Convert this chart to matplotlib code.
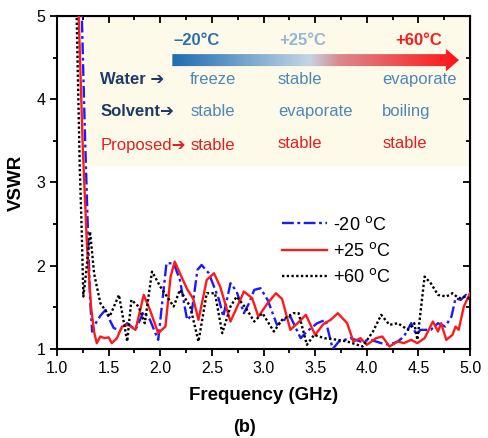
import numpy as np
import matplotlib.pyplot as plt
from matplotlib.colors import LinearSegmentedColormap
from matplotlib.patches import Polygon, Rectangle

plt.rcParams['font.family'] = ['Liberation Sans', 'DejaVu Sans']

# VSWR curves
f_m20 = [1.21, 1.24, 1.27, 1.30, 1.32, 1.34, 1.37, 1.42, 1.47, 1.51, 1.55, 1.61, 1.68, 1.76,
         1.84, 1.90, 1.98, 2.06, 2.13, 2.19, 2.26, 2.30, 2.36, 2.40, 2.47, 2.57, 2.61, 2.68,
         2.74, 2.81, 2.86, 2.91, 2.97, 3.04, 3.13, 3.20, 3.26, 3.36, 3.42, 3.52, 3.60, 3.67,
         3.73, 3.84, 3.94, 4.04, 4.14, 4.22, 4.30, 4.36, 4.43, 4.48, 4.52, 4.62, 4.69, 4.76,
         4.82, 4.86, 4.91, 4.96, 5.0]
vswr_m20 = [6.5, 5.0, 3.6, 2.39, 1.6, 1.21, 1.3, 1.4, 1.47, 1.35, 1.25, 1.23, 1.31, 1.23,
            1.45, 1.35, 1.11, 2.03, 2.03, 1.83, 1.35, 1.4, 1.95, 2.01, 1.91, 1.59, 1.39, 1.79,
            1.69, 1.43, 1.55, 1.71, 1.73, 1.59, 1.29, 1.35, 1.39, 1.13, 1.21, 1.31, 1.35, 1.0,
            1.09, 1.13, 1.09, 1.11, 1.07, 1.05, 1.09, 1.15, 1.31, 1.17, 1.23, 1.23, 1.31, 1.27,
            1.39, 1.61, 1.59, 1.65, 1.59]

f_25 = [1.18, 1.20, 1.25, 1.29, 1.33, 1.36, 1.385, 1.42, 1.46, 1.50, 1.53, 1.58, 1.63, 1.69,
        1.76, 1.84, 1.90, 1.98, 2.05, 2.10, 2.14, 2.19, 2.26, 2.32, 2.37, 2.45, 2.52, 2.58,
        2.68, 2.76, 2.81, 2.89, 2.95, 3.04, 3.12, 3.18, 3.26, 3.33, 3.41, 3.50, 3.58, 3.65,
        3.72, 3.81, 3.87, 3.94, 4.00, 4.09, 4.15, 4.22, 4.30, 4.36, 4.43, 4.49, 4.56, 4.64,
        4.69, 4.72, 4.77, 4.83, 4.86, 4.89, 4.94, 5.0]
vswr_25 = [6.5, 5.4, 3.4, 2.25, 1.5, 1.2, 1.07, 1.15, 1.13, 1.14, 1.07, 1.13, 1.27, 1.29,
           1.23, 1.65, 1.47, 1.19, 1.27, 1.87, 2.05, 1.91, 1.72, 1.6, 1.35, 1.83, 1.91, 1.75,
           1.33, 1.55, 1.69, 1.61, 1.39, 1.55, 1.67, 1.6, 1.23, 1.31, 1.41, 1.17, 1.3, 1.35,
           1.43, 1.31, 1.09, 1.13, 1.05, 1.13, 1.15, 1.03, 1.09, 1.07, 1.11, 1.07, 1.13, 1.33,
           1.21, 1.31, 1.11, 1.17, 1.27, 1.23, 1.51, 1.67]

f_60 = [1.17, 1.19, 1.22, 1.24, 1.255, 1.28, 1.32, 1.36, 1.42, 1.51, 1.60, 1.68, 1.72, 1.79,
        1.85, 1.92, 2.0, 2.13, 2.19, 2.29, 2.37, 2.45, 2.53, 2.60, 2.68, 2.74, 2.83, 2.91,
        2.99, 3.10, 3.18, 3.29, 3.34, 3.42, 3.49, 3.59, 3.72, 3.81, 3.96, 4.06, 4.14, 4.22,
        4.30, 4.40, 4.46, 4.49, 4.56, 4.62, 4.69, 4.77, 4.83, 4.89, 4.96, 5.0]
vswr_60 = [6.5, 5.0, 3.2, 2.39, 1.63, 1.9, 2.41, 1.9, 1.55, 1.39, 1.65, 1.09, 1.59, 1.51,
           1.31, 1.93, 1.75, 1.51, 1.71, 1.51, 1.09, 1.67, 1.67, 1.19, 1.51, 1.63, 1.49, 1.33,
           1.43, 1.21, 1.35, 1.43, 1.43, 1.05, 1.17, 1.13, 1.11, 1.09, 1.03, 1.21, 1.41, 1.29,
           1.31, 1.23, 1.31, 1.11, 1.87, 1.79, 1.65, 1.63, 1.67, 1.61, 1.63, 1.60]

temps = ['\u201320\u00b0C', '+25\u00b0C', '+60\u00b0C']
rows = ['Water', 'Solvent', 'Proposed']
states = [['freeze', 'stable', 'evaporate'],
          ['stable', 'evaporate', 'boiling'],
          ['stable', 'stable', 'stable']]

fig = plt.figure(figsize=(4.89, 4.38), dpi=100)
ax = fig.add_axes([0.1166, 0.2032, 0.8446, 0.7603])

# beige info box
ax.add_patch(Rectangle((1.28, 3.2), 3.72, 1.8, facecolor='#fdfaea', edgecolor='none', zorder=0))

ax.plot(f_m20, vswr_m20, color='#1a1aff', lw=1.7, ls=(0, (5, 1.5, 1.2, 1.5)), label='-20 $^{\\rm o}$C', zorder=3)
ax.plot(f_25, vswr_25, color='#ff1a1a', lw=1.7, label='+25 $^{\\rm o}$C', zorder=3)
ax.plot(f_60, vswr_60, color='black', lw=1.7, ls=(0, (1, 1)), label='+60 $^{\\rm o}$C', zorder=3)

# gradient temperature arrow
cmap = LinearSegmentedColormap.from_list('temp', [(0, '#1f6db0'), (0.48, '#c3d5e4'),
                                                  (0.58, '#d98a8f'), (1, '#ff1414')])
x0, x1, xh, yc = 2.117, 4.893, 4.767, 4.47
sh, hh = 0.072, 0.135
grad = np.linspace(0, 1, 256).reshape(1, -1)
im = ax.imshow(grad, extent=[x0, x1, yc - hh, yc + hh], aspect='auto', cmap=cmap, zorder=2)
arrow = Polygon([(x0, yc - sh), (xh, yc - sh), (xh, yc - hh), (x1, yc), (xh, yc + hh),
                 (xh, yc + sh), (x0, yc + sh)], closed=True, facecolor='none', edgecolor='none')
ax.add_patch(arrow)
im.set_clip_path(arrow)

tcolors = ['#2f6fae', '#94b6d4', '#ff1a1a']
col_x = [2.29, 3.14, 4.15]
temp_x = [2.35, 3.38, 4.50]
for t, xx, c in zip(temps, temp_x, tcolors):
    ax.text(xx, 4.71, t, color=c, fontsize=12, fontweight='bold', ha='center', va='center')

row_y = [4.24, 3.85, 3.45]
row_labels = ['Water \u2794', 'Solvent\u2794', 'Proposed\u2794']
row_colors = ['#1f3a68', '#1f3a68', '#e02020']
word_colors = ['#4f87b9', '#4f87b9', '#e02020']
for i in range(3):
    ax.text(1.42, row_y[i], row_labels[i], color=row_colors[i], fontsize=12,
            fontweight='bold' if i < 2 else 'normal', ha='left', va='center')
    for j in range(3):
        ax.text(col_x[j], row_y[i] + (0.02 if (i == 2 and j > 0) else 0), states[i][j],
                color=word_colors[i], fontsize=12, ha='left', va='center')

ax.set_xlim(1.0, 5.0)
ax.set_ylim(1, 5)
ax.set_xticks(np.arange(1.0, 5.01, 0.5))
ax.set_xticks(np.arange(1.0, 5.01, 0.25), minor=True)
ax.set_yticks([1, 2, 3, 4, 5])
ax.set_yticks(np.arange(1, 5.01, 0.5), minor=True)
ax.set_xticklabels(['%.1f' % v for v in np.arange(1.0, 5.01, 0.5)])
ax.tick_params(which='both', direction='out', labelsize=11.5, width=1.3, top=False, right=False)
ax.tick_params(which='major', length=5)
ax.tick_params(which='minor', length=3)
for s in ax.spines.values():
    s.set_linewidth(1.5)

# inward ticks on top and right
sec_x = ax.secondary_xaxis('top')
sec_x.set_xticks(np.arange(1.0, 5.01, 0.5))
sec_x.set_xticks(np.arange(1.0, 5.01, 0.25), minor=True)
sec_x.tick_params(which='both', direction='in', labeltop=False, width=1.3)
sec_x.tick_params(which='major', length=5)
sec_x.tick_params(which='minor', length=3)
sec_y = ax.secondary_yaxis('right')
sec_y.set_yticks([1, 2, 3, 4, 5])
sec_y.set_yticks(np.arange(1, 5.01, 0.5), minor=True)
sec_y.tick_params(which='both', direction='in', labelright=False, width=1.3)
sec_y.tick_params(which='major', length=5)
sec_y.tick_params(which='minor', length=3)

ax.set_xlabel('Frequency (GHz)', fontsize=13.5, fontweight='bold', labelpad=8)
ax.set_ylabel('VSWR', fontsize=13.5, fontweight='bold', labelpad=8)

ax.legend(loc='upper left', bbox_to_anchor=(0.545, 0.40), frameon=False, fontsize=13,
          handlelength=2.5, handletextpad=0.3, labelspacing=0.45, borderpad=0, borderaxespad=0)

fig.text(0.50, 1 - 427 / 438, '(b)', fontsize=13, fontweight='bold', ha='center', va='center')

plt.savefig('out.png', dpi=100)
